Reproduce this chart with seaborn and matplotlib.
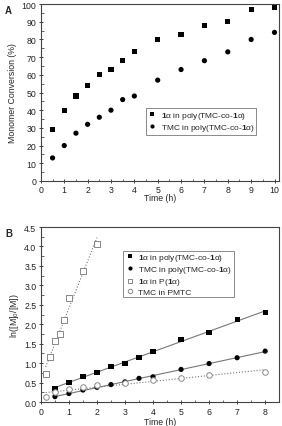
import numpy as np
import pandas as pd
import matplotlib
matplotlib.use("Agg")
import matplotlib.pyplot as plt
import seaborn as sns

# Panel A data
time_a = [0.5, 1, 1.5, 2, 2.5, 3, 3.5, 4, 5, 6, 7, 8, 9, 10]
conv_1a = [29, 40, 48, 54, 60, 63, 68, 73, 80, 83, 88, 90, 97, 98]
conv_tmc = [13, 20, 27, 32, 36, 40, 46, 48, 57, 63, 68, 73, 80, 84]

# Panel B data
time_b = [0.5, 1, 1.5, 2, 2.5, 3, 3.5, 4, 5, 6, 7, 8]
ln_1a_co = [0.35, 0.51, 0.65, 0.77, 0.92, 1.0, 1.14, 1.31, 1.61, 1.78, 2.12, 2.31]
ln_tmc_co = [0.14, 0.22, 0.31, 0.38, 0.45, 0.52, 0.61, 0.65, 0.84, 0.99, 1.14, 1.31]
time_p1a = [0.17, 0.33, 0.5, 0.67, 0.83, 1.0, 1.5, 2.0]
ln_p1a = [0.73, 1.17, 1.58, 1.76, 2.12, 2.67, 3.37, 4.07]
time_pmtc = [0.17, 0.5, 1, 1.5, 2, 3, 4, 5, 6, 8]
ln_pmtc = [0.12, 0.26, 0.34, 0.39, 0.43, 0.48, 0.56, 0.62, 0.69, 0.78]

lab1 = r"$\mathbf{1}$α in poly(TMC-co-$\mathbf{1}$α)"
lab2 = r"TMC in poly(TMC-co-$\mathbf{1}$α)"
lab3 = r"$\mathbf{1}$α in P($\mathbf{1}$α)"
lab4 = "TMC in PMTC"

sns.set_style("ticks")
plt.rcParams['font.family'] = ['Liberation Sans', 'DejaVu Sans']
plt.rcParams['mathtext.fontset'] = 'custom'
plt.rcParams['mathtext.rm'] = 'Liberation Sans'
plt.rcParams['mathtext.bf'] = 'Liberation Sans:bold'
plt.rcParams['mathtext.it'] = 'Liberation Sans:italic'
plt.rcParams['axes.edgecolor'] = '#444444'

fig = plt.figure(figsize=(2.82, 4.27), dpi=100)
axA = fig.add_axes([0.145, 0.574, 0.845, 0.414])
axB = fig.add_axes([0.145, 0.056, 0.845, 0.410])

fs = 6.3

def style(ax):
    for s in ax.spines.values():
        s.set_linewidth(0.8)
        s.set_color('#444444')
    ax.tick_params(which='major', direction='inout', length=3.5, width=0.6, labelsize=fs, pad=1.5, colors='#222222')
    ax.tick_params(which='minor', direction='in', length=1.8, width=0.5)

leg_kw = dict(fontsize=fs - 0.3, frameon=True, fancybox=False, edgecolor='#555555',
              borderpad=0.2, handletextpad=0.4, labelspacing=0.1, markerscale=0.8,
              handlelength=1.2, borderaxespad=0)

# Panel A
dfA = pd.DataFrame({"t": time_a + time_a, "v": conv_1a + conv_tmc,
                    "s": [lab1] * len(time_a) + [lab2] * len(time_a)})
sns.scatterplot(data=dfA, x="t", y="v", hue="s", style="s",
                markers={lab1: "s", lab2: "o"}, palette={lab1: "black", lab2: "black"},
                s=14, linewidth=0, ax=axA, legend=True)
axA.set_xlim(0, 10.2)
axA.set_ylim(0, 100)
axA.set_xticks(range(0, 11))
axA.set_yticks(range(0, 101, 10))
axA.set_xticks(np.arange(0.5, 10.2, 1), minor=True)
axA.set_yticks(np.arange(5, 100, 10), minor=True)
axA.set_xlabel("Time (h)", fontsize=fs, labelpad=-1)
axA.set_ylabel("Monomer Conversion (%)", fontsize=fs, labelpad=3)
style(axA)
legA = axA.legend(loc='upper left', bbox_to_anchor=(0.44, 0.41), **leg_kw)
legA.get_frame().set_linewidth(0.6)

# Panel B
dfB = pd.DataFrame({
    "t": time_b + time_b + time_p1a + time_pmtc,
    "v": ln_1a_co + ln_tmc_co + ln_p1a + ln_pmtc,
    "s": [lab1] * len(time_b) + [lab2] * len(time_b) + [lab3] * len(time_p1a) + [lab4] * len(time_pmtc),
})
sub = dfB[dfB.s.isin([lab1, lab2])]
sns.scatterplot(data=sub, x="t", y="v", hue="s", style="s",
                markers={lab1: "s", lab2: "o"}, palette={lab1: "black", lab2: "black"},
                s=14, linewidth=0, ax=axB, zorder=3)
axB.scatter(time_p1a, ln_p1a, marker='s', s=14, facecolors='white', edgecolors='#888888', linewidths=0.7, label=lab3, zorder=3)
axB.scatter(time_pmtc, ln_pmtc, marker='o', s=16, facecolors='white', edgecolors='#888888', linewidths=0.7, label=lab4, zorder=3)

def fit(x, y, x0, x1, ls):
    k, b = np.polyfit(x, y, 1)
    xs = np.array([x0, x1])
    axB.plot(xs, k * xs + b, color='#777777', lw=0.8, ls=ls, zorder=2)

fit(time_b, ln_1a_co, 0.5, 8, '-')
fit(time_b, ln_tmc_co, 0.5, 8, '-')
fit(time_p1a, ln_p1a, 0.17, 2.0, ':')
fit(time_pmtc, ln_pmtc, 0.17, 8, ':')

axB.set_xlim(0, 8.5)
axB.set_ylim(0, 4.5)
axB.set_xticks(range(0, 9))
axB.set_yticks(np.arange(0, 4.51, 0.5))
axB.set_xticks(np.arange(0.5, 8.5, 1), minor=True)
axB.set_yticks(np.arange(0.25, 4.5, 0.5), minor=True)
axB.set_xlabel("Time (h)", fontsize=fs, labelpad=1)
axB.set_ylabel("ln([M]$_0$/[M])", fontsize=fs, labelpad=2)
style(axB)
legB = axB.legend(loc='upper left', bbox_to_anchor=(0.345, 0.865), **leg_kw)
legB.get_frame().set_linewidth(0.6)

fig.text(0.018, 0.985, "A", fontsize=7, fontweight='bold', va='top')
fig.text(0.018, 0.464, "B", fontsize=7, fontweight='bold', va='top')

fig.savefig("out.png", dpi=100)
